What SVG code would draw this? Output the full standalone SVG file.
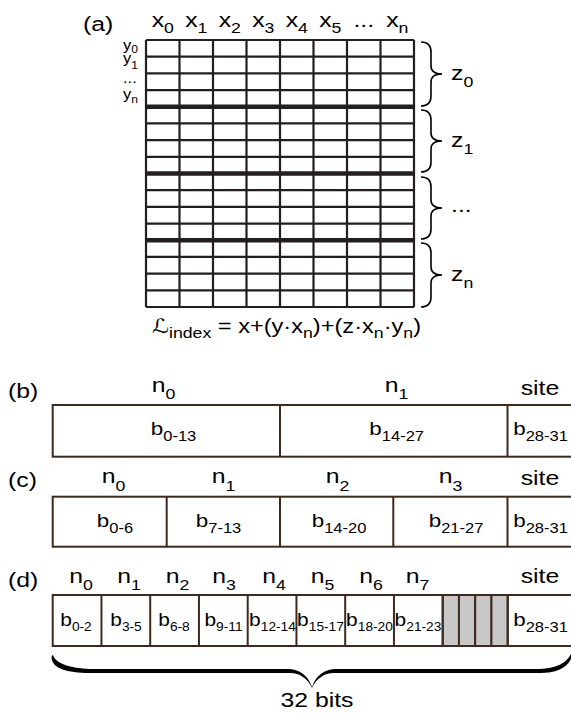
<svg xmlns="http://www.w3.org/2000/svg" width="571" height="713" viewBox="0 0 571 713">
<style>
text{font-family:"Liberation Sans",Arial,"DejaVu Sans",sans-serif;fill:#000}
.lb{font-size:21px}
.sm{font-size:15px}
.yl{font-size:15px}
.ys{font-size:11px}
.bx{font-size:19px}
.grid{stroke:#231f20;stroke-width:2.2;fill:none}
.thick{stroke:#231f20;stroke-width:4.5;fill:none}
.box{fill:#fff;stroke:#3f2a1c;stroke-width:2}
.div{stroke:#3f2a1c;stroke-width:2}
.gray{fill:#c8c8c8;stroke:#3f2a1c;stroke-width:2}
.brace{fill:none;stroke:#000;stroke-width:1.6}
</style>
<rect width="571" height="713" fill="#fff"/>

<g id="panel-a">
  <text class="lb" transform="translate(83,31) scale(1.18,1)">(a)</text>
  <g id="grid">
    <rect x="146" y="40" width="268" height="267" fill="#fff"/>
    <path class="grid" d="M146,40V307M179.5,40V307M213,40V307M246.5,40V307M280,40V307M313.5,40V307M347,40V307M380.5,40V307M414,40V307"/>
    <path class="grid" d="M146,40H414M146,56.69H414M146,73.38H414M146,90.06H414M146,123.44H414M146,140.13H414M146,156.81H414M146,190.19H414M146,206.88H414M146,223.56H414M146,256.94H414M146,273.63H414M146,290.31H414M146,307H414"/>
    <path class="thick" d="M146,106.75H414M146,173.5H414M146,240.25H414"/>
  </g>
  <g id="x-labels" text-anchor="middle">
    <text class="lb" transform="translate(162.75,27) scale(1.18,1)">x<tspan class="sm" dy="6">0</tspan></text>
    <text class="lb" transform="translate(196.25,27) scale(1.18,1)">x<tspan class="sm" dy="6">1</tspan></text>
    <text class="lb" transform="translate(229.75,27) scale(1.18,1)">x<tspan class="sm" dy="6">2</tspan></text>
    <text class="lb" transform="translate(263.25,27) scale(1.18,1)">x<tspan class="sm" dy="6">3</tspan></text>
    <text class="lb" transform="translate(296.75,27) scale(1.18,1)">x<tspan class="sm" dy="6">4</tspan></text>
    <text class="lb" transform="translate(330.25,27) scale(1.18,1)">x<tspan class="sm" dy="6">5</tspan></text>
    <text class="lb" transform="translate(363.75,27) scale(1.18,1)">...</text>
    <text class="lb" transform="translate(397.25,27) scale(1.18,1)">x<tspan class="sm" dy="6">n</tspan></text>
  </g>
  <g id="y-labels">
    <text class="yl" transform="translate(123,50) scale(1.1,1)">y<tspan class="ys" dy="3">0</tspan></text>
    <text class="yl" transform="translate(123,63) scale(1.1,1)">y<tspan class="ys" dy="6">1</tspan></text>
    <text class="yl" transform="translate(123,83) scale(1.1,1)">...</text>
    <text class="yl" transform="translate(123,99) scale(1.1,1)">y<tspan class="ys" dy="4">n</tspan></text>
  </g>
  <g id="z-labels">
    <text class="lb" transform="translate(451,80) scale(1.18,1)">z<tspan class="sm" dy="7">0</tspan></text>
    <text class="lb" transform="translate(451,147) scale(1.18,1)">z<tspan class="sm" dy="7">1</tspan></text>
    <text class="lb" transform="translate(451,212) scale(1.18,1)">...</text>
    <text class="lb" transform="translate(451,281) scale(1.18,1)">z<tspan class="sm" dy="7">n</tspan></text>
  </g>
  <text id="formula" font-size="20" transform="translate(152,333) scale(1.18,1)">ℒ<tspan font-size="15" dy="5">index</tspan><tspan dy="-5"> = x+(y·x</tspan><tspan font-size="15" dy="5">n</tspan><tspan dy="-5">)+(z·x</tspan><tspan font-size="15" dy="5">n</tspan><tspan dy="-5">·y</tspan><tspan font-size="15" dy="5">n</tspan><tspan dy="-5">)</tspan></text>
</g>

<g id="connectors">
  <path class="brace" d="M421,42C428,42 431,45 431,52L431,66C431,71 434,74 442,74C434,74 431,77 431,82L431,96C431,103 428,106 421,106"/>
  <path class="brace" d="M421,110C428,110 431,113 431,120L431,133C431,138 434,141 442,141C434,141 431,144 431,149L431,162C431,169 428,172 421,172"/>
  <path class="brace" d="M421,177C428,177 431,180 431,187L431,200C431,205 434,208 442,208C434,208 431,211 431,216L431,229C431,236 428,239 421,239"/>
  <path class="brace" d="M421,243C428,243 431,246 431,253L431,267C431,272 434,275 442,275C434,275 431,278 431,283L431,297C431,304 428,307 421,307"/>
  <path id="bits-brace" fill="#000" d="M53,655C56,664 70,668 90,669L290,669C302,670 309,678 312,687C315,678 322,670 334,669L540,669C555,668 566,664 571,654L571,659C566,669 555,673 540,673L334,673C324,673 316,679 312,688C308,679 300,673 290,673L90,673C66,673 54,668 52,660C51,657 52,655 53,655Z"/>
</g>

<g id="panel-b">
  <text class="lb" transform="translate(8,398) scale(1.18,1)">(b)</text>
  <g text-anchor="middle">
    <text class="lb" transform="translate(163.5,392) scale(1.18,1)">n<tspan class="sm" dy="7">0</tspan></text>
    <text class="lb" transform="translate(396.5,392) scale(1.18,1)">n<tspan class="sm" dy="7">1</tspan></text>
    <text class="lb" transform="translate(540,395) scale(1.18,1)">site</text>
  </g>
  <rect class="box" x="52.7" y="405" width="522" height="51.7"/>
  <path class="div" d="M280,405V456.7M507.5,405V456.7"/>
  <g text-anchor="middle">
    <text class="bx" transform="translate(173.5,435) scale(1.18,1)">b<tspan font-size="14" dy="6">0-13</tspan></text>
    <text class="bx" transform="translate(396.7,435) scale(1.18,1)">b<tspan font-size="14" dy="6">14-27</tspan></text>
    <text class="bx" transform="translate(540.5,435) scale(1.18,1)">b<tspan font-size="14" dy="6">28-31</tspan></text>
  </g>
</g>

<g id="panel-c">
  <text class="lb" transform="translate(8,487) scale(1.18,1)">(c)</text>
  <g text-anchor="middle">
    <text class="lb" transform="translate(113.5,483) scale(1.18,1)">n<tspan class="sm" dy="8">0</tspan></text>
    <text class="lb" transform="translate(223.5,483) scale(1.18,1)">n<tspan class="sm" dy="8">1</tspan></text>
    <text class="lb" transform="translate(337.5,483) scale(1.18,1)">n<tspan class="sm" dy="8">2</tspan></text>
    <text class="lb" transform="translate(450.5,483) scale(1.18,1)">n<tspan class="sm" dy="8">3</tspan></text>
    <text class="lb" transform="translate(540,485) scale(1.18,1)">site</text>
  </g>
  <rect class="box" x="52.7" y="496.7" width="522" height="50"/>
  <path class="div" d="M166.7,496.7V546.7M280,496.7V546.7M393.3,496.7V546.7M507.5,496.7V546.7"/>
  <g text-anchor="middle">
    <text class="bx" transform="translate(115,527) scale(1.18,1)">b<tspan font-size="14" dy="6">0-6</tspan></text>
    <text class="bx" transform="translate(218.5,527) scale(1.18,1)">b<tspan font-size="14" dy="6">7-13</tspan></text>
    <text class="bx" transform="translate(339,527) scale(1.18,1)">b<tspan font-size="14" dy="6">14-20</tspan></text>
    <text class="bx" transform="translate(456,527) scale(1.18,1)">b<tspan font-size="14" dy="6">21-27</tspan></text>
    <text class="bx" transform="translate(540.5,527) scale(1.18,1)">b<tspan font-size="14" dy="6">28-31</tspan></text>
  </g>
</g>

<g id="panel-d">
  <text class="lb" transform="translate(8,587) scale(1.18,1)">(d)</text>
  <g text-anchor="middle">
    <text class="lb" transform="translate(81,583) scale(1.18,1)">n<tspan class="sm" dy="7">0</tspan></text>
    <text class="lb" transform="translate(129,583) scale(1.18,1)">n<tspan class="sm" dy="7">1</tspan></text>
    <text class="lb" transform="translate(177.5,583) scale(1.18,1)">n<tspan class="sm" dy="7">2</tspan></text>
    <text class="lb" transform="translate(224,583) scale(1.18,1)">n<tspan class="sm" dy="7">3</tspan></text>
    <text class="lb" transform="translate(274,583) scale(1.18,1)">n<tspan class="sm" dy="7">4</tspan></text>
    <text class="lb" transform="translate(322.5,583) scale(1.18,1)">n<tspan class="sm" dy="7">5</tspan></text>
    <text class="lb" transform="translate(371,583) scale(1.18,1)">n<tspan class="sm" dy="7">6</tspan></text>
    <text class="lb" transform="translate(417.5,583) scale(1.18,1)">n<tspan class="sm" dy="7">7</tspan></text>
    <text class="lb" transform="translate(540,583) scale(1.18,1)">site</text>
  </g>
  <rect class="box" x="52.7" y="595" width="522" height="51"/>
  <rect class="gray" x="442.7" y="595" width="16.25" height="51"/>
  <rect class="gray" x="458.95" y="595" width="16.25" height="51"/>
  <rect class="gray" x="475.2" y="595" width="16.25" height="51"/>
  <rect class="gray" x="491.45" y="595" width="16.25" height="51"/>
  <path class="div" d="M101.45,595V646M150.2,595V646M198.95,595V646M247.7,595V646M296.45,595V646M345.2,595V646M393.95,595V646M442.7,595V646M507.7,595V646"/>
  <g text-anchor="middle">
    <text class="bx" transform="translate(76,626) scale(1.1,1)">b<tspan font-size="12.5" dy="5">0-2</tspan></text>
    <text class="bx" transform="translate(126,626) scale(1.1,1)">b<tspan font-size="12.5" dy="5">3-5</tspan></text>
    <text class="bx" transform="translate(174,626) scale(1.1,1)">b<tspan font-size="12.5" dy="5">6-8</tspan></text>
    <text class="bx" transform="translate(223.5,626) scale(1.1,1)">b<tspan font-size="12.5" dy="5">9-11</tspan></text>
    <text class="bx" transform="translate(272.5,626) scale(1.1,1)">b<tspan font-size="12.5" dy="5">12-14</tspan></text>
    <text class="bx" transform="translate(320.5,626) scale(1.1,1)">b<tspan font-size="12.5" dy="5">15-17</tspan></text>
    <text class="bx" transform="translate(369.5,626) scale(1.1,1)">b<tspan font-size="12.5" dy="5">18-20</tspan></text>
    <text class="bx" transform="translate(418,626) scale(1.1,1)">b<tspan font-size="12.5" dy="5">21-23</tspan></text>
    <text class="bx" transform="translate(540.5,626) scale(1.18,1)">b<tspan font-size="14" dy="6">28-31</tspan></text>
  </g>
  <text id="bits-label" class="lb" text-anchor="middle" transform="translate(317,707) scale(1.18,1)">32 bits</text>
</g>
</svg>
